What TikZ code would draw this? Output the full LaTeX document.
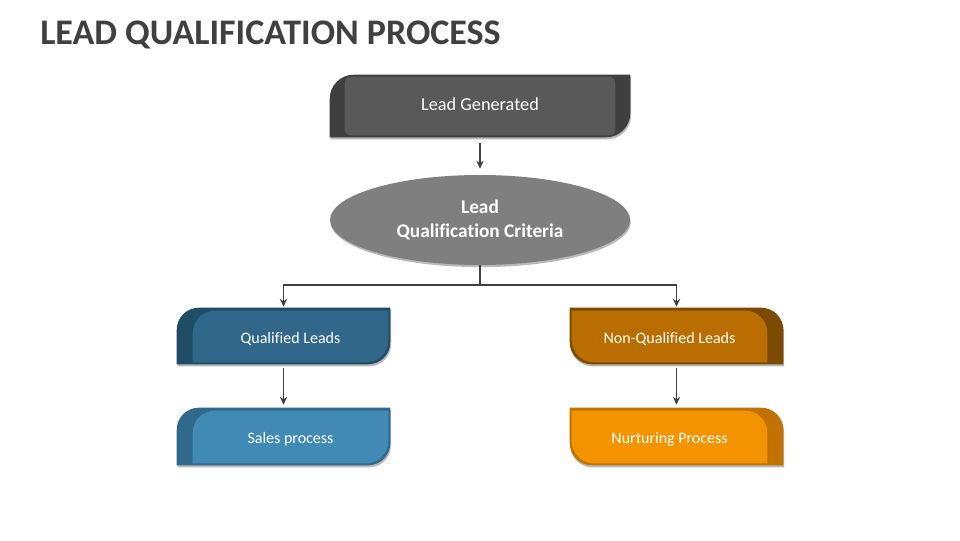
\documentclass[tikz,border=0pt]{standalone}
\usepackage{fontspec}
\setmainfont{Carlito}[Ligatures=NoCommon]
\usetikzlibrary{shapes.geometric,calc,backgrounds,shadows,arrows.meta}

\definecolor{titlegray}{HTML}{404040}
\definecolor{genouter}{HTML}{3F3F3F}
\definecolor{geninner}{HTML}{595959}
\definecolor{critgray}{HTML}{7F7F7F}
\definecolor{qualouter}{HTML}{1F4D66}
\definecolor{qualinner}{HTML}{31688A}
\definecolor{salesouter}{HTML}{31698C}
\definecolor{salesinner}{HTML}{408AB5}
\definecolor{nonqouter}{HTML}{7C4A00}
\definecolor{nonqinner}{HTML}{BA6E00}
\definecolor{nurtouter}{HTML}{C27200}
\definecolor{nurtinner}{HTML}{F49300}

\def\pu{0.75pt}

\tikzset{
  cardshadow/.style={drop shadow={shadow xshift=0.6pt,shadow yshift=-1.6pt,fill=black,opacity=0.28}},
  card/.style={minimum width=213*\pu,minimum height=56*\pu,inner sep=0pt,
    text height=11pt,text depth=0pt,
    text=white,font=\fontsize{12}{14}\selectfont},
  leftcard/.style={card,execute at begin node={\hspace*{10.5pt}}},
  rightcard/.style={card,execute at end node={\hspace*{10.5pt}}},
  link/.style={-{Stealth[length=6pt,width=5.5pt]},line width=1.2pt,titlegray},
}

% outer and inner fill of a card, dark band on the left
\newcommand\leftcardfill[3]{%
  \fill[#2,cardshadow] (#1.south west) -- ($(#1.north west)+(0,-22)$)
    arc[start angle=180,end angle=90,radius=22] -- (#1.north east)
    -- ($(#1.south east)+(0,22)$) arc[start angle=0,end angle=-90,radius=22] -- cycle;
  \fill[#3] ($(#1.south west)+(16,2)$) -- ($(#1.north west)+(16,-25)$)
    arc[start angle=180,end angle=90,radius=22] -- ($(#1.north east)+(-2,-3)$)
    -- ($(#1.south east)+(-2,24)$) arc[start angle=0,end angle=-90,radius=22] -- cycle;
}
% outer and inner fill of a card, dark band on the right
\newcommand\rightcardfill[3]{%
  \fill[#2,cardshadow] (#1.north west) -- ($(#1.north east)+(-22,0)$)
    arc[start angle=90,end angle=0,radius=22] -- (#1.south east)
    -- ($(#1.south west)+(22,0)$) arc[start angle=270,end angle=180,radius=22] -- cycle;
  \fill[#3] ($(#1.north west)+(2,-3)$) -- ($(#1.north east)+(-38,-3)$)
    arc[start angle=90,end angle=0,radius=22] -- ($(#1.south east)+(-16,2)$)
    -- ($(#1.south west)+(24,2)$) arc[start angle=270,end angle=180,radius=22] -- cycle;
}

\begin{document}
\begin{tikzpicture}[x=\pu,y=\pu]
  \useasboundingbox (0,0) rectangle (960,540);

  \node[anchor=base west,inner sep=0pt,text=titlegray,
        font=\fontsize{27}{32}\selectfont\bfseries] (title) at (40,495) {LEAD QUALIFICATION PROCESS};

  \node[minimum width=300*\pu,minimum height=62*\pu,inner sep=0pt,text=white,
        text height=8pt,text depth=1.4pt,
        font=\fontsize{13.7}{16}\selectfont] (gen) at (480,434) {Lead Generated};

  \node[ellipse,fill=critgray,cardshadow,minimum width=300*\pu,minimum height=90*\pu,
        inner sep=0pt,text=white,align=center,font=\fontsize{14.5}{18}\selectfont\bfseries]
        (crit) at (480,320) {Lead\\Qualification Criteria};

  \node[leftcard] (qual) at (283.5,204) {Qualified Leads};
  \node[leftcard,minimum height=57*\pu] (sales) at (283.5,103.5) {Sales process};
  \node[rightcard] (nonq) at (676.5,204) {Non-Qualified Leads};
  \node[rightcard,minimum height=57*\pu] (nurt) at (676.5,103.5) {Nurturing Process};

  \begin{pgfonlayer}{background}
    \fill[white] (0,0) rectangle (960,540);
    \fill[genouter,cardshadow] (gen.south west) -- ($(gen.north west)+(0,-24)$)
      arc[start angle=180,end angle=90,radius=24] -- (gen.north east)
      -- ($(gen.south east)+(0,24)$) arc[start angle=0,end angle=-90,radius=24] -- cycle;
    \fill[geninner,rounded corners=6*\pu] ($(gen.south west)+(15,2)$) rectangle ($(gen.north east)+(-15,-2)$);
    \leftcardfill{qual}{qualouter}{qualinner}
    \leftcardfill{sales}{salesouter}{salesinner}
    \rightcardfill{nonq}{nonqouter}{nonqinner}
    \rightcardfill{nurt}{nurtouter}{nurtinner}
  \end{pgfonlayer}

  % connectors
  \draw[link,shorten <=6*\pu,shorten >=6*\pu] (gen.south) -- (crit.north);
  \draw[link,shorten >=1*\pu] (crit.south) -- ++(0,-20) -| (qual.north);
  \draw[link,shorten >=1*\pu] (crit.south) -- ++(0,-20) -| (nonq.north);
  \draw[link,shorten <=4*\pu,shorten >=3*\pu] (qual.south) -- (sales.north);
  \draw[link,shorten <=4*\pu,shorten >=3*\pu] (nonq.south) -- (nurt.north);
\end{tikzpicture}
\end{document}
